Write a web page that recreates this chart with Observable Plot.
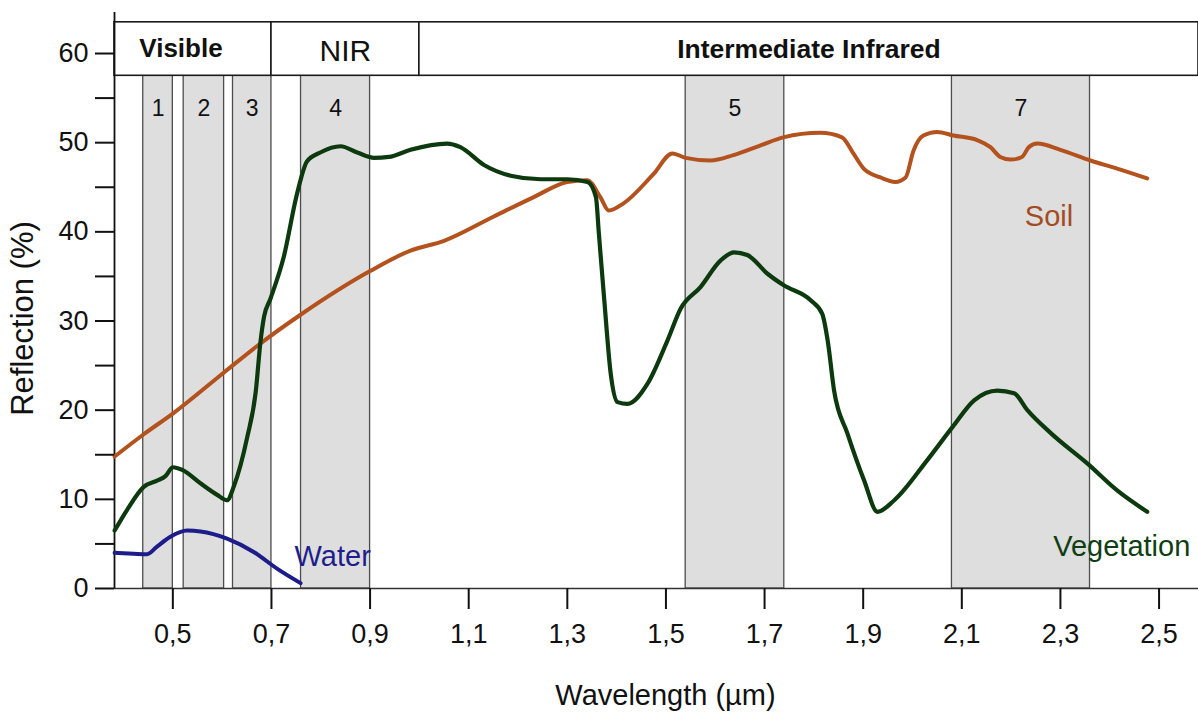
<!DOCTYPE html>
<html><head><meta charset="utf-8">
<script src="https://cdn.jsdelivr.net/npm/d3@7"></script>
<script src="https://cdn.jsdelivr.net/npm/@observablehq/plot@0.6"></script>
<style>
html,body{margin:0;padding:0;background:#fff;}
#chart{width:1198px;height:715px;overflow:hidden;}
svg{display:block;}
</style></head><body><div id="chart"></div>
<script>
// ---- data ----
const soilX = [0.382, 0.441, 0.502, 0.603, 0.671, 0.759, 0.90, 0.982, 1.05, 1.15, 1.232, 1.30, 1.34, 1.367, 1.384, 1.414, 1.475, 1.513, 1.54, 1.59, 1.637, 1.692, 1.738, 1.813, 1.857, 1.88, 1.901, 1.935, 1.965, 1.986, 2.002, 2.022, 2.05, 2.083, 2.131, 2.158, 2.178, 2.199, 2.222, 2.236, 2.253, 2.30, 2.361, 2.415, 2.476];
const soilY = [14.8, 17.3, 19.7, 24.2, 27.2, 30.7, 35.6, 37.9, 39.0, 41.7, 43.9, 45.6, 45.8, 43.9, 42.4, 43.2, 46.5, 48.8, 48.3, 48.0, 48.6, 49.7, 50.6, 51.1, 50.6, 48.8, 47.1, 46.1, 45.6, 46.1, 49.1, 50.8, 51.2, 50.8, 50.3, 49.5, 48.4, 48.1, 48.4, 49.5, 49.9, 49.2, 48.0, 47.1, 46.0];

const vegX = [0.382, 0.407, 0.441, 0.468, 0.485, 0.500, 0.519, 0.556, 0.590, 0.610, 0.624, 0.651, 0.668, 0.678, 0.685, 0.698, 0.725, 0.752, 0.772, 0.799, 0.840, 0.874, 0.908, 0.938, 0.982, 1.056, 1.083, 1.131, 1.185, 1.246, 1.300, 1.341, 1.358, 1.364, 1.375, 1.388, 1.402, 1.422, 1.463, 1.503, 1.530, 1.570, 1.611, 1.638, 1.665, 1.706, 1.739, 1.794, 1.817, 1.828, 1.841, 1.868, 1.902, 1.929, 1.963, 2.030, 2.081, 2.125, 2.172, 2.206, 2.233, 2.281, 2.355, 2.415, 2.476];
const vegY = [6.5, 8.8, 11.4, 12.1, 12.6, 13.6, 13.3, 11.8, 10.5, 9.9, 11.5, 17.0, 22.0, 27.8, 30.5, 32.5, 37.2, 44.3, 47.9, 48.9, 49.6, 48.9, 48.3, 48.4, 49.2, 49.9, 49.5, 47.5, 46.3, 45.9, 45.9, 45.6, 43.9, 39.8, 32.3, 24.1, 20.9, 20.7, 23.0, 27.8, 31.4, 33.8, 36.8, 37.7, 37.4, 35.3, 34.0, 32.3, 30.8, 27.8, 22.2, 17.4, 12.1, 8.6, 9.9, 14.4, 18.1, 21.1, 22.2, 21.9, 20.0, 17.4, 14.0, 11.0, 8.6];

const waterX = [0.382, 0.421, 0.448, 0.468, 0.495, 0.529, 0.556, 0.610, 0.664, 0.712, 0.759];
const waterY = [4.0, 3.9, 3.85, 4.7, 5.8, 6.5, 6.4, 5.6, 4.1, 2.2, 0.6];

const regionNames = ["Visible", "NIR", "Intermediate Infrared"];
const regionStart = [0.3817, 0.70, 1.00];
const regionEnd = [0.70, 1.00, 2.58];

const bandNames = ["1", "2", "3", "4", "5", "7"];
const bandStart = [0.44, 0.522, 0.622, 0.760, 1.54, 2.08];
const bandEnd = [0.50, 0.604, 0.700, 0.900, 1.74, 2.36];

const xTicks = [0.5, 0.7, 0.9, 1.1, 1.3, 1.5, 1.7, 1.9, 2.1, 2.3, 2.5];
const yTicks = [0, 5, 10, 15, 20, 25, 30, 35, 40, 45, 50, 55, 60];
const yLabelled = [0, 10, 20, 30, 40, 50, 60];

// ---- tables built from the arrays ----
const soil = soilX.map((x, i) => ({x, y: soilY[i]}));
const veg = vegX.map((x, i) => ({x, y: vegY[i]}));
const water = waterX.map((x, i) => ({x, y: waterY[i]}));
const regions = regionNames.map((name, i) => ({name, x1: regionStart[i], x2: regionEnd[i]}));
const bands = bandNames.map((name, i) => ({name, x1: bandStart[i], x2: bandEnd[i]}));

const X_MIN = 0.3817, X_MAX = 2.58, Y_MAX = 64.6;
const HEAD_LO = 57.5, HEAD_HI = 63.5, BAND_LABEL_Y = 53.8;
const FONT = "Liberation Sans, Arial, Helvetica, sans-serif";

const comma = d3.formatLocale({decimal: ",", thousands: ".", grouping: [3], currency: ["", ""]}).format(".1f");

const chart = Plot.plot({
  width: 1198,
  height: 715,
  marginLeft: 114,
  marginRight: 0,
  marginTop: 12,
  marginBottom: 127,
  style: {fontFamily: FONT, background: "#fff", color: "#111"},
  x: {domain: [X_MIN, X_MAX]},
  y: {domain: [0, Y_MAX]},
  marks: [
    // spectral bands
    Plot.rect(bands, {x1: "x1", x2: "x2", y1: () => 0, y2: () => HEAD_LO, fill: "#dedede", stroke: "#4d4d4d", strokeWidth: 1.3}),
    Plot.text(bands, {x: d => (d.x1 + d.x2) / 2, y: () => BAND_LABEL_Y, text: "name", fontSize: 23, fill: "#111"}),
    // header row
    Plot.rect(regions, {x1: "x1", x2: "x2", y1: () => HEAD_LO, y2: () => HEAD_HI, fill: "white", stroke: "#1a1a1a", strokeWidth: 1.6}),
    Plot.text(regions, {filter: d => d.name === "Visible", x: d => (d.x1 + d.x2) / 2, y: () => (HEAD_LO + HEAD_HI) / 2, text: "name", fontSize: 26, fontWeight: "bold", dx: -12, fill: "#111"}),
    Plot.text(regions, {filter: d => d.name === "NIR", x: d => (d.x1 + d.x2) / 2, y: () => (HEAD_LO + HEAD_HI) / 2, text: "name", fontSize: 30, dy: 2, fill: "#111"}),
    Plot.text(regions, {filter: d => d.name === "Intermediate Infrared", x: d => (d.x1 + d.x2) / 2, y: () => (HEAD_LO + HEAD_HI) / 2, text: "name", fontSize: 26.5, fontWeight: "bold", fill: "#111"}),
    // axis lines
    Plot.ruleY([0], {stroke: "#333", strokeWidth: 1.6}),
    Plot.ruleX([X_MIN], {stroke: "#111", strokeWidth: 1.8}),
    // curves
    Plot.line(soil, {x: "x", y: "y", stroke: "#b4521e", strokeWidth: 4, curve: "monotone-x", strokeLinecap: "round", strokeLinejoin: "round"}),
    Plot.line(veg, {x: "x", y: "y", stroke: "#0c3a0e", strokeWidth: 4.2, curve: "monotone-x", strokeLinecap: "round", strokeLinejoin: "round"}),
    Plot.line(water, {x: "x", y: "y", stroke: "#1c1c8a", strokeWidth: 4, curve: "monotone-x", strokeLinecap: "round", strokeLinejoin: "round"}),
    // curve labels anchored to each curve's last point
    Plot.text(water, Plot.selectLast({x: "x", y: "y", text: () => "Water", textAnchor: "start", dx: -6, dy: -26, fontSize: 29, fill: "#1e1e8c"})),
    Plot.text(soil, Plot.selectLast({x: "x", y: "y", text: () => "Soil", textAnchor: "end", dx: -74, dy: 38, fontSize: 29, fill: "#a34c22"})),
    Plot.text(veg, Plot.selectLast({x: "x", y: "y", text: () => "Vegetation", textAnchor: "start", dx: -94, dy: 35, fontSize: 29, fill: "#103e12"})),
    // axes
    Plot.axisX({ticks: xTicks, tickFormat: comma, tickSize: 21, tickPadding: 14, fontSize: 27, strokeWidth: 2, label: null}),
    Plot.axisY({ticks: yTicks, tickFormat: d => yLabelled.includes(d) ? String(d) : "", tickSize: 19, tickPadding: 7, fontSize: 27, strokeWidth: 2, label: null}),
    Plot.text(["Wavelength (µm)"], {frameAnchor: "bottom", textAnchor: "middle", dx: 9, dy: 116, fontSize: 29, fill: "#111"}),
    Plot.text(["Reflection (%)"], {frameAnchor: "left", textAnchor: "middle", dx: -91, dy: 18, rotate: -90, fontSize: 31, fill: "#111"})
  ]
});
document.getElementById("chart").appendChild(chart);
</script>
</body></html>
